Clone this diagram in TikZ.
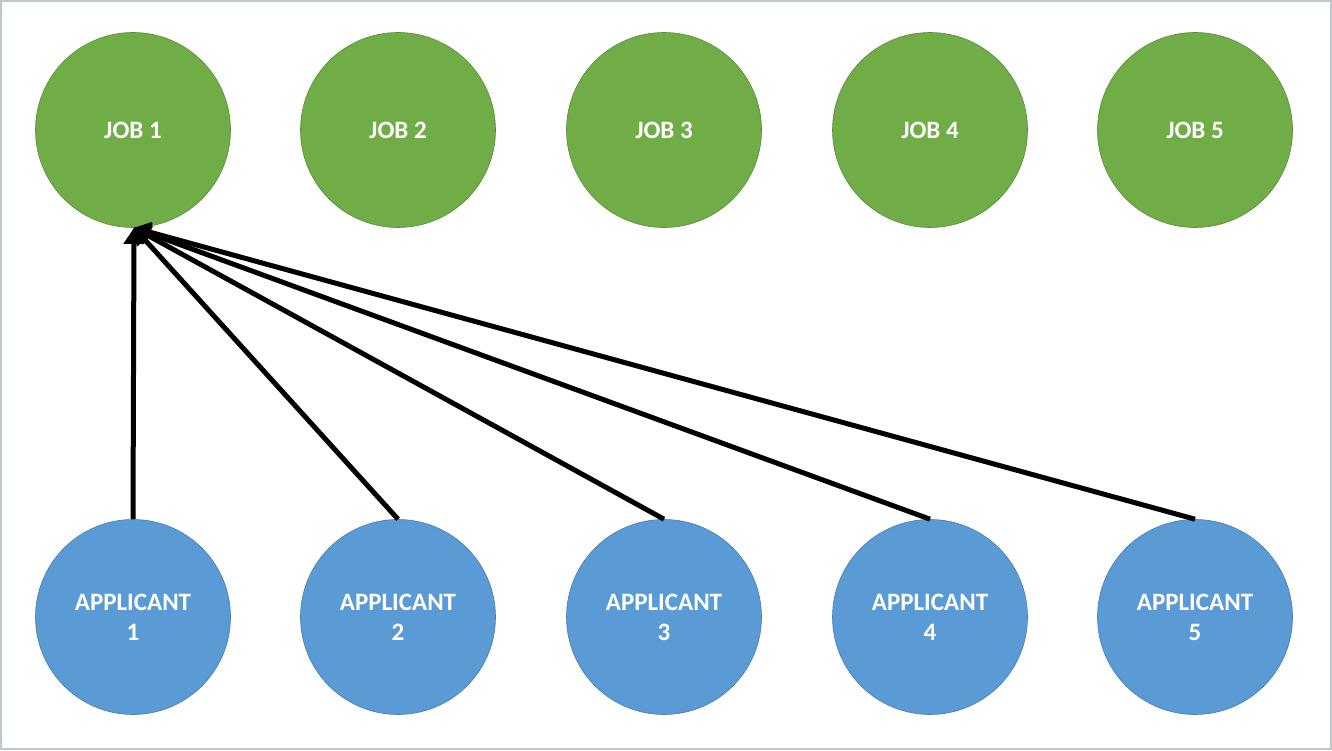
\documentclass[tikz,border=0pt]{standalone}
\usepackage{fontspec}
\setmainfont{Carlito}
\usetikzlibrary{arrows.meta}
\definecolor{jobgreen}{HTML}{70AD47}
\definecolor{appblue}{HTML}{5B9BD5}
\definecolor{framegray}{HTML}{BFC8C8}
\tikzset{
  x=1pt, y=1pt,
  circ/.style={circle, minimum size=195pt, inner sep=0pt, text=white, align=center,
    font=\fontsize{25}{30}\selectfont\bfseries},
  job/.style={circ, fill=jobgreen, draw=jobgreen!80!black, line width=0.6pt},
  app/.style={circ, fill=appblue, draw=appblue!80!black, line width=0.6pt},
  conn/.style={line width=5pt, black, -{Triangle[length=16pt,width=20pt]}}
}
\begin{document}
\begin{tikzpicture}
\useasboundingbox (0,0) rectangle (1332,750);
\draw[framegray, line width=1.5pt] (1,1) rectangle (1331,749);
\foreach \i/\x in {1/133,2/398,3/664,4/930,5/1195}{
  \node[job] (job\i) at (\x,620) {JOB \i};
  \node[app] (app\i) at (\x,133) {APPLICANT\\\i};
}
\coordinate (tip) at ([xshift=1pt]job1.south);
\foreach \i in {1,...,5}{
  \draw[conn] (app\i.north) -- (tip);
}
\end{tikzpicture}
\end{document}
